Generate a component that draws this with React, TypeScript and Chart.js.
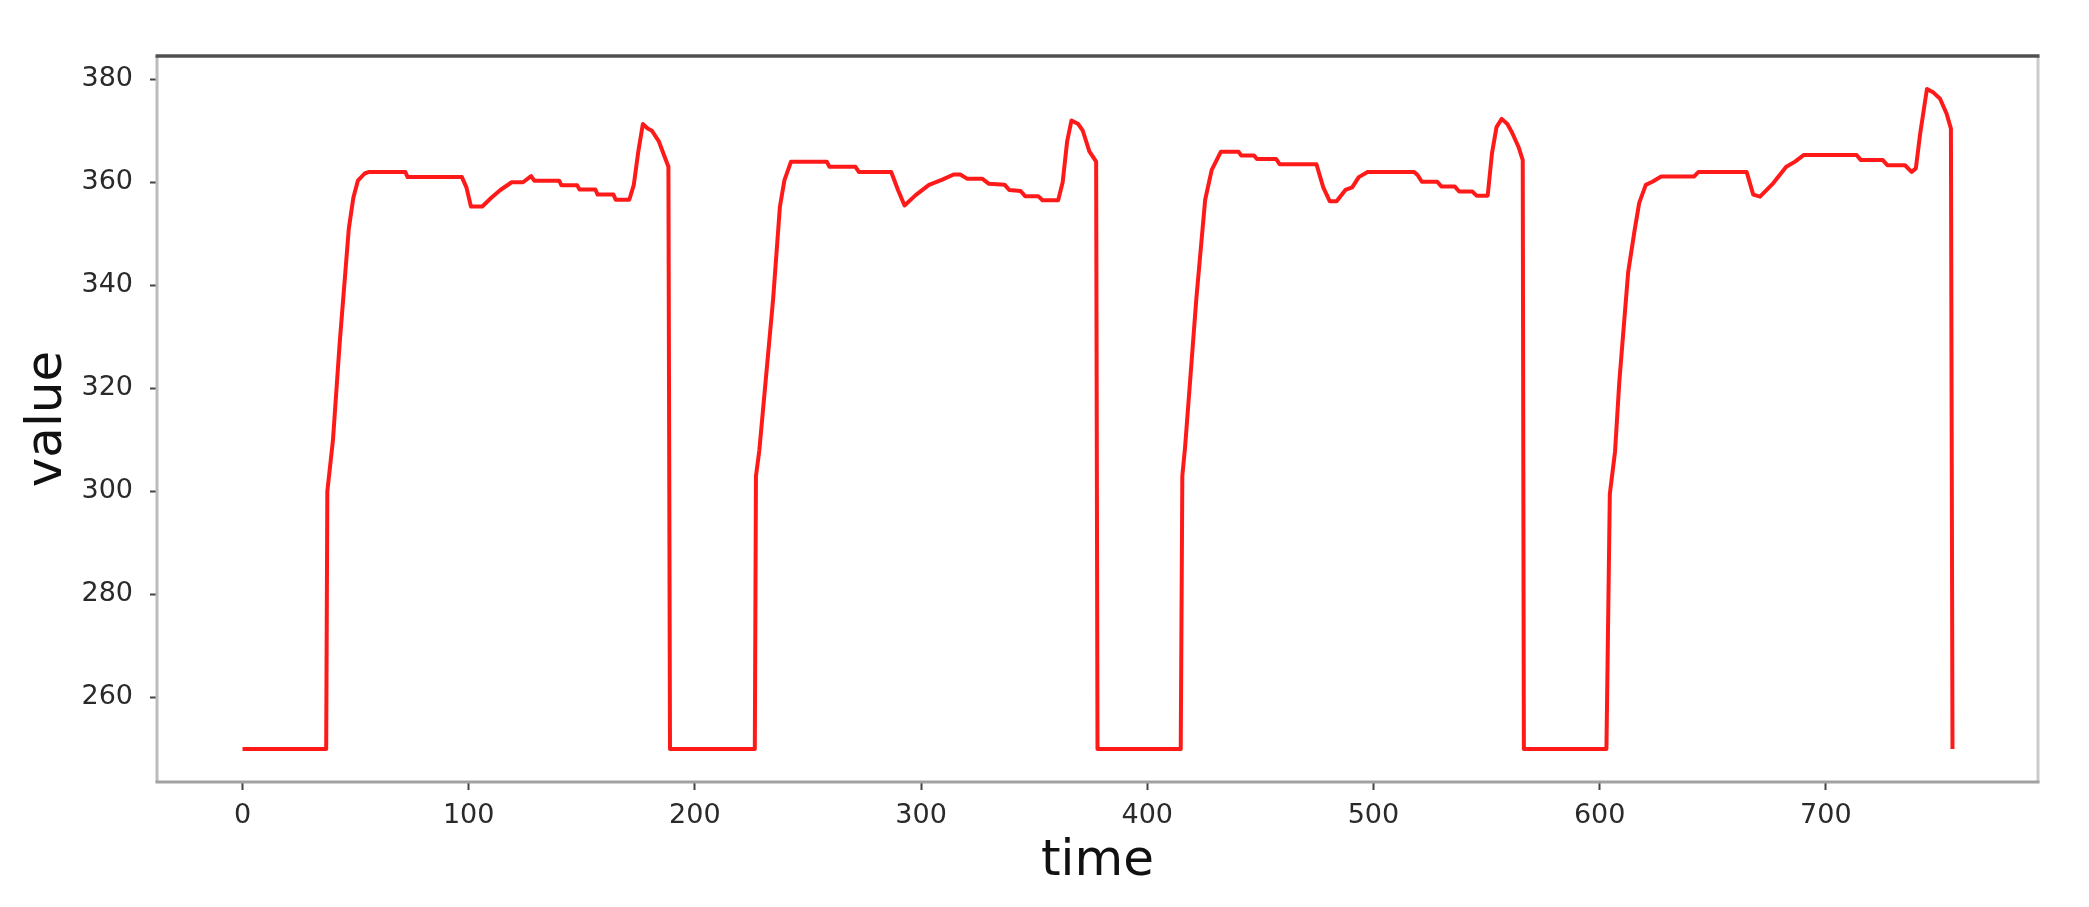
import React, { useEffect, useRef } from 'react';
import { Chart, registerables } from 'chart.js';

Chart.register(...registerables);

// time stamps of the line's vertices
const time: number[] = [
  0, 37, 37.5, 38.5, 40, 43, 47, 49, 51, 54, 56, 72, 73, 97, 99, 101, 106, 110, 114, 119, 124, 127.6, 129, 140, 141, 148, 149, 156, 157, 164, 165, 171, 173, 175, 177, 179, 181, 184, 187, 188.3, 189,
  226.5, 227, 228.5, 234.6, 237.6, 239.6, 242.5, 258.3, 259.5, 271, 272.5, 286.8, 289.8, 292.7, 297.6, 303.5, 309.4, 314.4, 317.3, 320.3, 327, 330, 337, 339, 344, 346, 351.8, 353.7, 360.6, 362.6, 364.6, 366.5, 369.5, 371.5, 374.4, 377.4, 378,
  414.8, 415.5, 416.7, 421.7, 425.6, 428.5, 432.5, 440.4, 441.5, 447.2, 448.5, 457, 458.5, 474.8, 477.8, 480.7, 483.7, 487.6, 490.6, 493.5, 497.4, 518, 519.5, 521.4, 528.2, 530, 535.9, 537.9, 543.7, 545.6, 550.5, 552.4, 554.4, 556.7, 559.2, 561.2, 564.1, 566, 566.5,
  603, 604.5, 606.8, 608.7, 612.6, 615.5, 617.5, 620.4, 623.3, 627.2, 641.7, 643.7, 665, 667.9, 670.9, 676.7, 682.5, 686.4, 690.3, 713.6, 715.5, 725.2, 727.2, 735, 737.9, 739.8, 741.7, 744.7, 747.6, 750.5, 753.4, 755.3, 756,
];

// values at those vertices
const value: number[] = [
  250, 250, 300, 304, 310, 329, 351, 357, 360.3, 361.7, 362, 362, 361, 361, 359, 355.3, 355.3, 357, 358.5, 360, 360, 361.2, 360.3, 360.3, 359.4, 359.4, 358.6, 358.6, 357.6, 357.6, 356.6, 356.6, 359.5, 366, 371.3, 370.5, 370, 368, 364.5, 363, 250,
  250, 303, 308, 337.4, 355.3, 360.4, 364, 364, 363, 363, 362, 362, 358.5, 355.5, 357.5, 359.5, 360.5, 361.5, 361.5, 360.7, 360.7, 359.7, 359.5, 358.5, 358.3, 357.3, 357.3, 356.5, 356.5, 360, 368, 372, 371.3, 370, 366, 364, 250,
  250, 303, 308.5, 337.4, 356.6, 362.4, 365.9, 365.9, 365.2, 365.2, 364.5, 364.5, 363.5, 363.5, 359, 356.3, 356.3, 358.5, 359, 361, 362, 362, 361.4, 360.1, 360.1, 359.2, 359.2, 358.2, 358.2, 357.4, 357.4, 365.6, 370.7, 372.3, 371.3, 369.7, 366.9, 364.3, 250,
  250, 299.5, 307.7, 321.3, 342.5, 350.8, 356, 359.5, 360.1, 361.1, 361.1, 362, 362, 357.6, 357.2, 359.8, 363, 364, 365.3, 365.3, 364.3, 364.3, 363.3, 363.3, 362, 362.7, 369.4, 378.1, 377.4, 376.2, 373.3, 370.4, 250,
];

const xTicks: number[] = [0, 100, 200, 300, 400, 500, 600, 700];
const yTicks: number[] = [260, 280, 300, 320, 340, 360, 380];
const xTitle = 'time';
const yTitle = 'value';

const FONT = "'DejaVu Sans', 'Liberation Sans', sans-serif";

export default function App() {
  const canvasRef = useRef<HTMLCanvasElement>(null);

  useEffect(() => {
    const canvas = canvasRef.current;
    if (!canvas) return;

    const tMin = Math.min(...time);
    const tMax = Math.max(...time);
    const vMin = Math.min(...value);
    const vMax = Math.max(...value);
    const xPad = (tMax - tMin) * 0.05;
    const yPad = (vMax - vMin) * 0.05;

    const framePlugin = {
      id: 'frame',
      afterDraw(chart: any) {
        const { ctx, chartArea } = chart;
        const { left, right, top, bottom } = chartArea;
        ctx.save();
        const seg = (x1: number, y1: number, x2: number, y2: number, color: string, w: number) => {
          ctx.beginPath();
          ctx.strokeStyle = color;
          ctx.lineWidth = w;
          ctx.moveTo(x1, y1);
          ctx.lineTo(x2, y2);
          ctx.stroke();
        };
        seg(left, top, left, bottom, '#bcbcbc', 3);
        seg(right, top, right, bottom, '#cccccc', 3);
        seg(left - 1.5, bottom, right + 1.5, bottom, '#a2a2a2', 3);
        seg(left - 1.5, top, right + 1.5, top, '#505050', 3.5);
        ctx.restore();
      },
    };

    const chart = new Chart(canvas, {
      type: 'line',
      data: {
        datasets: [
          {
            data: time.map((t, i) => ({ x: t, y: value[i] })),
            borderColor: '#ff1a1a',
            borderWidth: 4,
            pointRadius: 0,
            tension: 0,
            fill: false,
            borderJoinStyle: 'round',
          },
        ],
      },
      options: {
        animation: false,
        responsive: false,
        maintainAspectRatio: false,
        layout: { padding: { left: 0, top: 56, right: 51, bottom: 0 } },
        plugins: {
          legend: { display: false },
          tooltip: { enabled: false },
        },
        scales: {
          x: {
            type: 'linear',
            min: tMin - xPad,
            max: tMax + xPad,
            afterBuildTicks: (s: any) => {
              s.ticks = xTicks.map((v) => ({ value: v }));
            },
            afterFit: (s: any) => {
              s.height = 125;
            },
            grid: { drawOnChartArea: false, drawTicks: true, tickLength: 8, tickColor: '#444', tickWidth: 2 },
            border: { display: false },
            ticks: {
              color: '#2a2a2a',
              font: { family: FONT, size: 27 },
              padding: 10,
              maxRotation: 0,
              autoSkip: false,
            },
            title: {
              display: true,
              text: xTitle,
              color: '#111',
              font: { family: FONT, size: 50 },
              padding: { top: 0, bottom: 15 },
            },
          },
          y: {
            type: 'linear',
            min: vMin - yPad,
            max: vMax + yPad,
            afterBuildTicks: (s: any) => {
              s.ticks = yTicks.map((v) => ({ value: v }));
            },
            afterFit: (s: any) => {
              s.width = 157;
            },
            grid: { drawOnChartArea: false, drawTicks: true, tickLength: 7, tickColor: '#444', tickWidth: 2 },
            border: { display: false },
            ticks: {
              color: '#2a2a2a',
              font: { family: FONT, size: 27 },
              padding: 17,
              autoSkip: false,
            },
            title: {
              display: true,
              text: yTitle,
              color: '#111',
              font: { family: FONT, size: 50 },
              padding: { top: 18, bottom: 0 },
            },
          },
        },
      },
      plugins: [framePlugin],
    } as any);

    return () => {
      chart.destroy();
    };
  }, []);

  return (
    <div style={{ position: 'absolute', left: 0, top: 0, width: 2089, height: 907, background: '#fff' }}>
      <canvas ref={canvasRef} width={2089} height={907} style={{ display: 'block', width: 2089, height: 907 }} />
    </div>
  );
}
